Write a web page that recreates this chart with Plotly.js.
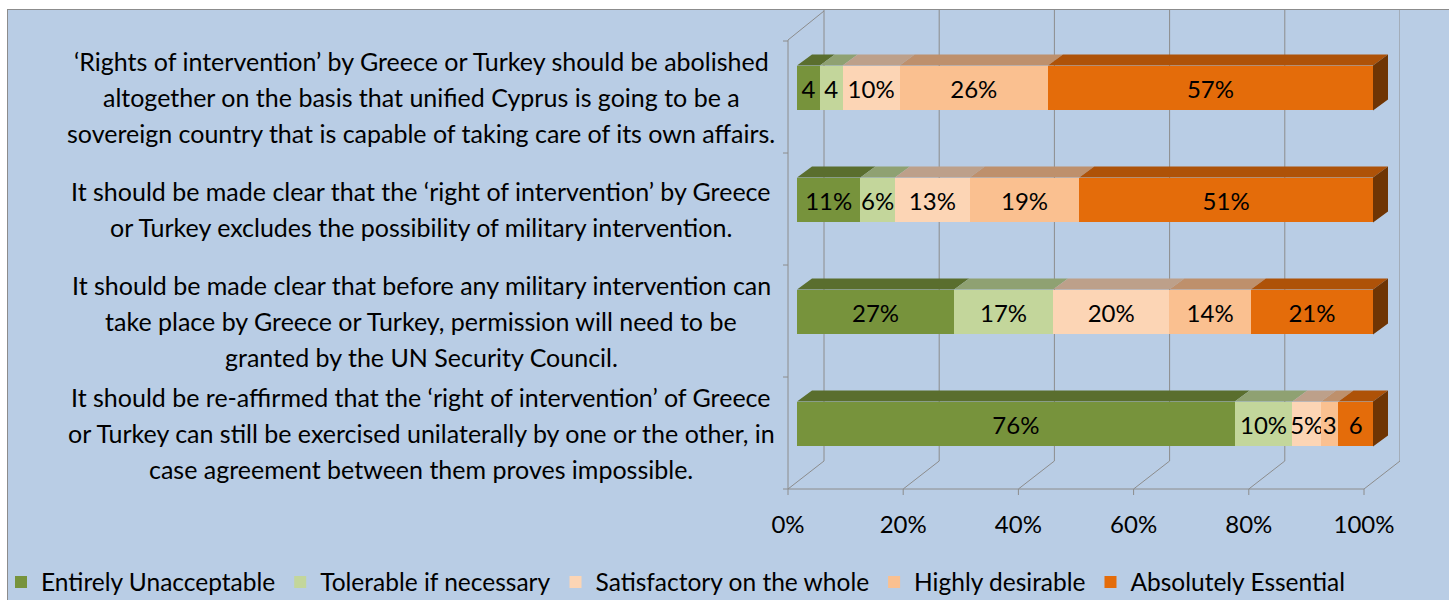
<!DOCTYPE html>
<html><head><meta charset="utf-8">
<script src="https://cdn.plot.ly/plotly-3.0.1.min.js"></script>
<style>
html,body{margin:0;padding:0;background:#fff;width:1449px;height:600px;overflow:hidden;}
#wrap{position:absolute;left:7px;top:9px;width:1442px;height:591px;background:#B9CDE5;border-left:1px solid #8C8C8C;border-top:1px solid #8C8C8C;}
#chart{position:absolute;left:0;top:0;width:1442px;height:591px;}
</style></head><body>
<div id="wrap"><div id="chart"></div></div>
<script>
// ---------- data ----------
const categories = [
  "‘Rights of intervention’ by Greece or Turkey should be abolished<br>altogether on the basis that unified Cyprus is going to be a<br>sovereign country that is capable of taking care of its own affairs.",
  "It should be made clear that the ‘right of intervention’ by Greece<br>or Turkey excludes the possibility of military intervention.",
  "It should be made clear that before any military intervention can<br>take place by Greece or Turkey, permission will need to be<br>granted by the UN Security Council.",
  "It should be re-affirmed that the ‘right of intervention’ of Greece<br>or Turkey can still be exercised unilaterally by one or the other, in<br>case agreement between them proves impossible."
];
const seriesNames = ["Entirely Unacceptable","Tolerable if necessary","Satisfactory on the whole","Highly desirable","Absolutely Essential"];
const entirelyUnacceptable = [4, 11, 27, 76];
const tolerableIfNecessary = [4, 6, 17, 10];
const satisfactoryOnWhole  = [10, 13, 20, 5];
const highlyDesirable      = [26, 19, 14, 3];
const absolutelyEssential  = [57, 51, 21, 6];
const labelsEntirely     = ["4", "11%", "27%", "76%"];
const labelsTolerable    = ["4", "6%", "17%", "10%"];
const labelsSatisfactory = ["10%", "13%", "20%", "5%"];
const labelsHighly       = ["26%", "19%", "14%", "3"];
const labelsEssential    = ["57%", "51%", "21%", "6"];
const tickLabels = ["0%","20%","40%","60%","80%","100%"];
const tickValues = [0,20,40,60,80,100];

// ---------- style ----------
const FONT = "Lato, 'Liberation Sans', sans-serif";
const FS = 24, FS_CAT = 25, FS_LEG = 24.5;
const frontColors = ["#77933C","#C3D69B","#FCD5B5","#FAC090","#E46C0A"];
const topColors   = ["#5A6E2E","#8FA172","#BDA08A","#BE906C","#AE5208"];
const sideColor = "#6F3504";
const gridColor = "#8C8C8C";

// ---------- geometry (page pixels -> data) ----------
const DIVX = 8, DIVY = 10;
const PLOT_L = 780, PLOT_R = 1400, PLOT_T = 10, PLOT_B = 500;
const X0PX = 797, PXPER = 5.76;
const Y0PX = 88, PYPER = 112;
const X = px => (px - X0PX) / PXPER;
const Y = py => (py - Y0PX) / PYPER;
const BARW = 0.4;
const DX = 15 / PXPER, DY = 11 / PYPER;

const values = [entirelyUnacceptable, tolerableIfNecessary, satisfactoryOnWhole, highlyDesirable, absolutelyEssential];
const labels = [labelsEntirely, labelsTolerable, labelsSatisfactory, labelsHighly, labelsEssential];
const ypos = categories.map((c, i) => i);

const traces = [];
values.forEach((vals, s) => {
  traces.push({
    type: 'bar', orientation: 'h', name: seriesNames[s],
    x: vals, y: ypos, width: BARW,
    marker: {color: frontColors[s], line: {width: 0}},
    text: labels[s], textposition: 'inside', insidetextanchor: 'middle',
    textangle: 0, constraintext: 'none',
    textfont: {family: FONT, size: FS, color: '#000'},
    hoverinfo: 'skip'
  });
});

const sums = ypos.map(i => values.reduce((a, v) => a + v[i], 0));
values.forEach((vals, s) => {
  const xs = [], ys = [];
  ypos.forEach(i => {
    let start = 0;
    for (let k = 0; k < s; k++) start += values[k][i];
    const x0 = start / sums[i] * 100, x1 = (start + vals[i]) / sums[i] * 100;
    const yt = i - BARW / 2;
    xs.push(x0, x1, x1 + DX, x0 + DX, x0, null);
    ys.push(yt, yt, yt - DY, yt - DY, yt, null);
  });
  traces.push({type: 'scatter', mode: 'none', x: xs, y: ys, fill: 'toself',
    fillcolor: topColors[s], showlegend: false, hoverinfo: 'skip'});
});
{
  const xs = [], ys = [];
  ypos.forEach(i => {
    const yt = i - BARW / 2, yb = i + BARW / 2;
    xs.push(100, 100 + DX, 100 + DX, 100, 100, null);
    ys.push(yt, yt - DY, yb - DY, yb, yt, null);
  });
  traces.push({type: 'scatter', mode: 'none', x: xs, y: ys, fill: 'toself',
    fillcolor: sideColor, showlegend: false, hoverinfo: 'skip'});
}
traces.push({type: 'scatter', mode: 'markers', x: [0], y: [0], xaxis: 'x2', yaxis: 'y',
  marker: {opacity: 0}, showlegend: false, hoverinfo: 'skip'});

const shapes = [];
const line = (x0, y0, x1, y1) => shapes.push({type: 'line', xref: 'x', yref: 'y',
  x0: X(x0), y0: Y(y0), x1: X(x1), y1: Y(y1), line: {color: gridColor, width: 1}, layer: 'below'});
tickValues.forEach((t, k) => {
  const fx = 788 + t * PXPER, bx = 824 + t * PXPER;
  line(bx, 10, bx, 461);
  line(fx, 489, bx, 461);
  line(fx, 489, fx, 495);
});
line(788, 489, 788 + 100 * PXPER, 489);
line(788, 40, 788, 489);
line(788, 40, 824, 11);
categories.concat([""]).forEach((c, j) => line(783, 41 + 112 * j, 788, 41 + 112 * j));

const annotations = [];
const plotW = PLOT_R - PLOT_L;
categories.forEach((c, i) => {
  const parts = c.split('<br>');
  parts.forEach((p, l) => {
    annotations.push({xref: 'paper', yref: 'y',
      x: (421 - PLOT_L) / plotW, y: i + 9 / PYPER + (l - (parts.length - 1) / 2) * 36 / PYPER,
      xanchor: 'center', yanchor: 'middle', showarrow: false, text: p,
      font: {family: FONT, size: FS_CAT, color: '#000'}});
  });
});

const layout = {
  width: 1442, height: 591,
  margin: {l: PLOT_L - DIVX, r: 1442 - (PLOT_R - DIVX), t: PLOT_T - DIVY, b: 591 - (PLOT_B - DIVY), pad: 0, autoexpand: false},
  paper_bgcolor: 'rgba(0,0,0,0)', plot_bgcolor: 'rgba(0,0,0,0)',
  barmode: 'stack', barnorm: 'percent',
  uniformtext: {mode: 'show', minsize: FS},
  showlegend: true,
  font: {family: FONT, size: FS, color: '#000'},
  xaxis: {range: [X(PLOT_L), X(PLOT_R)], visible: false, fixedrange: true},
  xaxis2: {overlaying: 'x', anchor: 'y', side: 'bottom', range: [(PLOT_L - 788) / PXPER, (PLOT_R - 788) / PXPER],
    tickvals: tickValues, ticktext: tickLabels, ticks: 'outside', ticklen: 3, tickcolor: 'rgba(0,0,0,0)',
    showgrid: false, zeroline: false, showline: false, tickfont: {family: FONT, size: FS, color: '#000'}},
  yaxis: {range: [Y(PLOT_B), Y(PLOT_T)], showticklabels: false, showgrid: false, zeroline: false, ticks: '', fixedrange: true},
  legend: {orientation: 'h', x: (1 - PLOT_L) / plotW, xanchor: 'left', y: (PLOT_B - 582) / (PLOT_B - PLOT_T), yanchor: 'middle',
    font: {family: FONT, size: FS_LEG, color: '#000'}, bgcolor: 'rgba(0,0,0,0)', traceorder: 'normal'},
  shapes: shapes, annotations: annotations
};
Plotly.newPlot('chart', traces, layout, {staticPlot: true, displayModeBar: false});
</script>
</body></html>
